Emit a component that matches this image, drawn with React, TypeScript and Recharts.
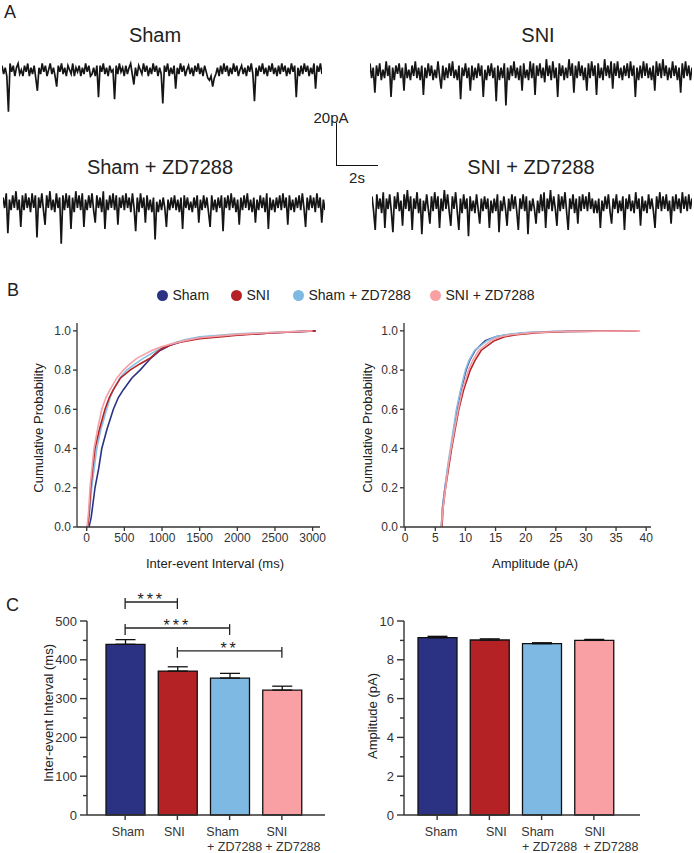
import React from 'react';
import { LineChart, Line, BarChart, Bar, Cell, ErrorBar, XAxis, YAxis, ReferenceLine } from 'recharts';

const FONT = '"Liberation Sans", Arial, Helvetica, sans-serif';
const INK = '#333';

const groups = ['Sham', 'SNI', 'Sham + ZD7288', 'SNI + ZD7288'];
const groupColors = ['#2b3283', '#b52226', '#7db9e2', '#f9a0a4'];
const lineColors = ['#2b3283', '#b52226', '#87bfe5', '#f4a0a6'];
const tickLines = [['Sham'], ['SNI'], ['Sham', '+ ZD7288'], ['SNI', '+ ZD7288']];

// example sEPSC traces, pA from baseline (downward = inward events)
const traceSham = [
  2, -2, 1, -3, -20, 3, -1, 2, -3, 1, 3, -2, 0, -3, 2, -1, 3, -3, 1, -2,
  2, -4, -10, 1, -2, 3, -1, 2, -3, 0, 3, -2, 1, -3, -8, 2, -1, 3, -2, 1,
  -3, 2, 0, -2, 3, -3, 1, -1, 2, -3, 1, -2, 3, -1, 2, -3, -2, 1, -3, 2,
  -13, 2, -1, 3, -2, 1, -3, 2, -1, 0, -14, 2, -2, 3, -1, 1, -3, 2, -2, 1,
  3, -2, -7, 1, -3, 2, 0, -2, 3, -1, 2, -3, 1, -2, 3, -1, 2, -3, 1, -2,
  -16, 2, -1, 3, -3, 1, -2, 2, -9, 1, -2, 3, -1, 2, -3, 0, 2, -2, 1, -3,
  2, -1, 3, -2, 1, -3, 2, -1, -4, -5, -3, -8, -4, -2, 1, -3, 2, -2, 3, -1,
  2, -3, 1, -2, 3, -1, 2, -3, 0, 2, -2, 1, -3, 2, -1, 3, -2, -15, 1, -3,
  2, -1, 3, -2, 1, -3, 2, -1, 3, -2, 1, -3, 2, -2, 3, -1, 2, -3, 1, -2,
  3, -1, 2, -13, 1, -3, 2, -2, 3, -1, 2, -3, 1, -2, 3, -9, 2, -1, 3, -2,
];
const traceSNI = [
  4, -3, 2, -10, 3, -2, 4, -4, 1, -3, 5, -2, 3, -12, 2, -4, 3, -1, 4, -3,
  2, -9, 4, -3, 1, -4, 3, -2, 5, -3, 2, -4, 3, -11, 2, -3, 4, -2, 3, -4,
  1, -3, 5, -2, -8, 3, -4, 2, -3, 4, -2, 5, -3, 1, -4, 3, -13, 2, -2, 4,
  -3, 2, -9, 3, -4, 2, -3, 4, -2, 3, -12, 1, -4, 3, -2, 4, -3, 2, -14, 3,
  -4, 2, -3, 4, -16, 2, -4, 3, -2, 5, -3, 2, -4, 3, -9, 4, -3, 1, -4, 5,
  -3, 4, -11, 3, -2, 4, -3, 2, -5, 6, -2, 3, -4, 5, -3, 2, -12, 4, -2, 3,
  -4, 2, -3, 6, -2, 4, -10, 3, -3, 5, -2, 3, -4, 2, -9, 4, -3, 5, -2, 3,
  -11, 4, -3, 2, -4, 6, -2, 3, -3, 5, -8, 4, -2, 5, -3, 2, -4, 3, -2, 4,
  -3, 5, -2, 3, -12, 2, -4, 3, -3, 5, -2, 4, -3, 2, -4, 3, -9, 5, -2, 4,
  -3, 6, -2, 3, -4, 2, -3, 5, -2, 3, -4, 2, -10, 4, -3, 5, -2, 3, -4, 2,
];
const traceShamZD = [
  3, -2, 5, -14, 2, -3, 4, -2, 6, -3, 2, -11, 4, -3, 5, -2, 3, -4, 5, -2,
  4, -16, 3, -2, 5, -3, -10, 4, -2, 6, -3, 2, -4, 5, -2, 3, -19, 4, -3, 5,
  -2, 4, -12, 3, -4, 6, -2, 4, -3, 5, -11, 2, -3, 4, -2, 5, -3, -9, 4, -2,
  3, -4, 6, -12, 2, -3, 4, -2, 5, -3, 4, -10, 3, -2, 4, -3, 5, -2, 3, -4,
  5, -2, -13, 3, -4, 5, -2, 3, -9, 4, -3, 2, -4, 3, -17, 1, -4, 2, -3, 3,
  -2, -11, 2, -3, 3, -2, 4, -3, 2, -4, 3, -12, 4, -2, 3, -3, 1, -4, 3, -2,
  4, -9, 2, -3, 4, -2, 3, -4, -11, 4, -3, 2, -4, 3, -2, 4, -13, 3, -2, 4,
  -3, 5, -2, 3, -4, 2, -10, 3, -3, 4, -2, 5, -3, 2, -4, 3, -9, 2, -3, 4,
  -2, 3, -4, 5, -12, 3, -3, 2, -4, 3, -2, 4, -3, 5, -2, 3, -10, 4, -3, 2,
  -4, 3, -2, 4, -3, 5, -2, -11, 3, -3, 4, -2, 3, -4, 5, -2, 3, -9, 2, -3,
];
const traceSNIZD = [
  4, -3, -12, 5, -2, 3, -4, 6, -11, 3, -2, 5, -3, -13, 4, -2, 6, -3, 2, -10,
  5, -2, 7, -3, 4, -12, 3, -2, 6, -4, 3, -14, 2, -3, 5, -2, -9, 4, -3, 6,
  -2, 4, -11, 3, -3, 7, -2, 5, -3, -10, 4, -2, 6, -3, -12, 3, -4, 5, -2, 3,
  -15, 4, -3, 2, -4, 5, -2, -9, 3, -3, 4, -2, 3, -11, 2, -4, 3, -3, 5, -13,
  2, -3, 4, -2, -10, 3, -3, 5, -2, 4, -3, -12, 3, -2, 5, -3, 4, -14, 2, -3,
  3, -2, -9, 2, -4, 5, -3, 6, -11, 3, -2, 7, -3, 4, -2, -10, 5, -3, 4, -2,
  6, -3, -12, 3, -2, 5, -4, 3, -9, 4, -3, 5, -2, 4, -3, 6, -2, 3, -4, 2,
  -4, 3, -11, 2, -3, 4, -2, 5, -3, -9, 3, -2, 5, -4, 2, -3, 4, -12, 3, -2,
  5, -3, 2, -4, 6, -2, 3, -10, 4, -3, 2, -4, 5, -2, 3, -3, -11, 4, -2, 6,
  -3, 4, -2, 5, -3, 2, -9, 4, -3, 5, -2, 3, -4, 6, -2, 4, -3, 5, -2, 3,
];

// cumulative distributions: [value, probability]
const intervalSham = [[30, 0], [60, 0.05], [110, 0.2], [160, 0.3], [200, 0.4], [270, 0.5], [354, 0.6], [420, 0.66], [487, 0.7], [600, 0.76], [708, 0.8], [850, 0.86], [974, 0.9], [1100, 0.925], [1300, 0.95], [1500, 0.965], [1800, 0.975], [2000, 0.98], [2500, 0.99], [3040, 1.0]];
const intervalSNI = [[10, 0], [30, 0.06], [53, 0.2], [80, 0.3], [110, 0.4], [170, 0.5], [243, 0.6], [300, 0.66], [354, 0.7], [450, 0.76], [575, 0.8], [700, 0.83], [840, 0.86], [930, 0.89], [1000, 0.91], [1200, 0.94], [1500, 0.96], [1800, 0.97], [2000, 0.978], [2500, 0.99], [3040, 1.0]];
const intervalShamZD = [[15, 0], [40, 0.08], [66, 0.2], [100, 0.3], [133, 0.4], [190, 0.5], [266, 0.6], [310, 0.66], [354, 0.7], [440, 0.76], [531, 0.8], [640, 0.83], [750, 0.86], [930, 0.9], [1100, 0.93], [1300, 0.955], [1500, 0.97], [2000, 0.985], [2500, 0.992], [3000, 1.0]];
const intervalSNIZD = [[5, 0], [25, 0.08], [44, 0.2], [70, 0.3], [97, 0.4], [145, 0.5], [200, 0.6], [255, 0.66], [310, 0.7], [400, 0.76], [487, 0.8], [570, 0.83], [664, 0.86], [863, 0.9], [1000, 0.92], [1300, 0.95], [1500, 0.965], [2000, 0.982], [2500, 0.992], [3000, 1.0]];

const ampSham = [[6, 0], [6.2, 0.1], [6.6, 0.2], [7.1, 0.3], [7.6, 0.4], [8.1, 0.5], [8.6, 0.6], [9.3, 0.7], [10.1, 0.8], [10.7, 0.85], [11.6, 0.9], [13.3, 0.95], [15, 0.97], [17, 0.98], [20, 0.99], [25, 0.997], [38.5, 1.0]];
const ampSNI = [[6.1, 0], [6.3, 0.1], [6.7, 0.2], [7.2, 0.3], [7.7, 0.4], [8.3, 0.5], [8.9, 0.6], [9.7, 0.7], [10.8, 0.8], [11.6, 0.85], [12.6, 0.9], [14.8, 0.95], [16.5, 0.97], [18.5, 0.98], [22, 0.99], [27, 0.997], [38.5, 1.0]];
const ampShamZD = [[6, 0], [6.2, 0.1], [6.6, 0.2], [7.0, 0.3], [7.5, 0.4], [8.0, 0.5], [8.5, 0.6], [9.2, 0.7], [10.0, 0.8], [10.6, 0.85], [11.5, 0.9], [13.6, 0.95], [15, 0.97], [16.5, 0.98], [19.5, 0.99], [24, 0.997], [38.5, 1.0]];
const ampSNIZD = [[6, 0], [6.3, 0.1], [6.7, 0.2], [7.1, 0.3], [7.6, 0.4], [8.2, 0.5], [8.8, 0.6], [9.5, 0.7], [10.5, 0.8], [11.2, 0.85], [12.2, 0.9], [14.2, 0.95], [15.8, 0.97], [17.5, 0.98], [21, 0.99], [26, 0.997], [39, 1.0]];

const probTicks = [0, 0.2, 0.4, 0.6, 0.8, 1.0];
const intervalTicks = [0, 500, 1000, 1500, 2000, 2500, 3000];
const ampTicks = [0, 5, 10, 15, 20, 25, 30, 35, 40];

// bar summaries (mean, SEM)
const intervalMeans = [440, 371, 353, 322];
const intervalSem = [12, 11, 12, 10];
const intervalBarTicks = [0, 50, 100, 150, 200, 250, 300, 350, 400, 450, 500];
const ampMeans = [9.14, 9.02, 8.83, 9.0];
const ampSem = [0.07, 0.06, 0.05, 0.05];
const ampBarTicks = [0, 1, 2, 3, 4, 5, 6, 7, 8, 9, 10];

// significance brackets on the interval bars
const brackets = [
  { from: 'Sham', to: 'SNI', y: 549, stars: '***' },
  { from: 'Sham', to: 'Sham + ZD7288', y: 482, stars: '***' },
  { from: 'SNI', to: 'SNI + ZD7288', y: 423, stars: '**' },
];

const toPts = (arr: number[][]) => arr.map(([x, p]) => ({ x, p }));
const intervalCdfs = [intervalSham, intervalSNI, intervalShamZD, intervalSNIZD];
const ampCdfs = [ampSham, ampSNI, ampShamZD, ampSNIZD];
const drawOrder = [0, 2, 1, 3];

const barData = groups.map((name, i) => ({
  name,
  interval: intervalMeans[i],
  intervalErr: [0, intervalSem[i]],
  amp: ampMeans[i],
  ampErr: [0, ampSem[i]],
}));

const Trace = ({ data, left, top, width }: { data: number[]; left: number; top: number; width: number }) => (
  <div style={{ position: 'absolute', left, top }}>
    <LineChart width={width} height={63} data={data.map((v, i) => ({ i, v }))} margin={{ top: 0, right: 0, bottom: 0, left: 0 }}>
      <XAxis dataKey="i" type="number" domain={[0, data.length - 1]} hide />
      <YAxis type="number" domain={[-22, 8]} hide />
      <Line dataKey="v" type="linear" stroke="#151515" strokeWidth={1.7} dot={false} isAnimationActive={false} />
    </LineChart>
  </div>
);

const Text = ({ x, y, size, children, rotate }: any) => (
  <div
    style={{
      position: 'absolute', left: x, top: y, fontSize: size, color: '#222', whiteSpace: 'nowrap', lineHeight: 1,
      transform: `translate(-50%, -50%)${rotate ? ' rotate(-90deg)' : ''}`,
    }}
  >
    {children}
  </div>
);

const makeYTick = (isMajor: (v: number) => boolean) => (props: any) => {
  const { x, y, payload } = props;
  const major = isMajor(payload.value);
  return (
    <g>
      <line x1={x} x2={x - (major ? 7 : 4)} y1={y} y2={y} stroke={INK} strokeWidth={1.4} />
      {major && (
        <text x={x - 10} y={y + 4.5} textAnchor="end" fontSize={13} fill={INK} fontFamily={FONT}>
          {payload.value}
        </text>
      )}
    </g>
  );
};

const makeGroupTick = (shifts: number[][]) => (props: any) => {
  const { x, y, index } = props;
  const lines = tickLines[index];
  return (
    <g>
      {lines.map((t, k) => (
        <text key={t} x={x + shifts[index][k]} y={y + 16 + k * 15} textAnchor="middle" fontSize={12.5} fill={INK} fontFamily={FONT}>
          {t}
        </text>
      ))}
    </g>
  );
};

const starLabel = (stars: string) => (p: any) => {
  const vb = p.viewBox;
  return (
    <text x={vb.x + vb.width / 2} y={vb.y + 3} textAnchor="middle" fontSize={16} letterSpacing={3} fill="#222" fontFamily={FONT}>
      {stars}
    </text>
  );
};

const axisTick = { fontSize: 12, fill: INK, fontFamily: FONT };

const CdfChart = ({ cdfs, width, xDomain, xTicks, yWidth, right }: any) => (
  <LineChart width={width} height={310} margin={{ top: 53, right, bottom: 8, left: 0 }}>
    <XAxis
      type="number" dataKey="x" domain={xDomain} ticks={xTicks} allowDataOverflow height={45}
      tick={axisTick} tickSize={4} stroke={INK} strokeWidth={1.3}
    />
    <YAxis
      type="number" domain={[0, 1.04]} ticks={probTicks} width={yWidth} tickFormatter={(v: number) => v.toFixed(1)}
      tick={axisTick} tickSize={4} stroke={INK} strokeWidth={1.3}
    />
    {drawOrder.map((k) => (
      <Line
        key={groups[k]} data={toPts(cdfs[k])} dataKey="p" type="linear" stroke={lineColors[k]} strokeWidth={1.6}
        dot={false} isAnimationActive={false}
      />
    ))}
  </LineChart>
);

export default function App() {
  const legendDots = [162, 236, 298, 435];
  return (
    <div style={{ position: 'absolute', left: 0, top: 0, width: 694, height: 853, background: '#fff', fontFamily: FONT, overflow: 'hidden' }}>
      {/* A */}
      <div style={{ position: 'absolute', left: 4, top: 2, fontSize: 18, color: '#222' }}>A</div>
      <Text x={155} y={35} size={20}>Sham</Text>
      <Text x={538} y={35} size={20}>SNI</Text>
      <Text x={160} y={167} size={20}>Sham + ZD7288</Text>
      <Text x={531} y={167} size={20}>SNI + ZD7288</Text>
      <Trace data={traceSham} left={2} top={53} width={320} />
      <Trace data={traceSNI} left={370} top={55} width={322} />
      <Trace data={traceShamZD} left={3} top={187} width={322} />
      <Trace data={traceSNIZD} left={372} top={188} width={320} />
      <Text x={331} y={117} size={15}>20pA</Text>
      <div style={{ position: 'absolute', left: 336, top: 123, width: 41, height: 42, borderLeft: '1.5px solid #111', borderBottom: '1.5px solid #111' }} />
      <Text x={357} y={177} size={15}>2s</Text>

      {/* B */}
      <div style={{ position: 'absolute', left: 7, top: 280, fontSize: 18, color: '#222' }}>B</div>
      {groups.map((g, i) => (
        <div key={g} style={{ position: 'absolute', left: legendDots[i] - 5.5, top: 295 - 8, display: 'flex', alignItems: 'center', height: 16, fontSize: 14, color: '#222', whiteSpace: 'nowrap' }}>
          <span style={{ width: 11, height: 11, borderRadius: '50%', background: groupColors[i], marginRight: 5, display: 'inline-block' }} />
          {g}
        </div>
      ))}
      <div style={{ position: 'absolute', left: 0, top: 270 }}>
        <CdfChart cdfs={intervalCdfs} width={340} xDomain={[-129, 3098]} xTicks={intervalTicks} yWidth={77} right={20} />
      </div>
      <div style={{ position: 'absolute', left: 345, top: 270 }}>
        <CdfChart cdfs={ampCdfs} width={349} xDomain={[-0.2, 40.8]} xTicks={ampTicks} yWidth={59} right={43} />
      </div>
      <Text x={38} y={428} size={13} rotate>Cumulative Probability</Text>
      <Text x={215} y={563} size={13}>Inter-event Interval (ms)</Text>
      <Text x={367} y={428} size={13} rotate>Cumulative Probability</Text>
      <Text x={535} y={563} size={13}>Amplitude (pA)</Text>

      {/* C */}
      <div style={{ position: 'absolute', left: 6, top: 595, fontSize: 18, color: '#222' }}>C</div>
      <div style={{ position: 'absolute', left: 0, top: 580 }}>
        <BarChart width={350} height={273} data={barData} margin={{ top: 41, right: 25, bottom: 0, left: 0 }}>
          <XAxis dataKey="name" height={38} padding={{ left: 12, right: 17 }} tick={makeGroupTick([[3], [-3], [-7, 5], [-5, 11]])} tickSize={5} tickMargin={0} stroke={INK} strokeWidth={1.4} interval={0} />
          <YAxis type="number" domain={[0, 500]} ticks={intervalBarTicks} width={87} tick={makeYTick((v) => v % 100 === 0)} tickSize={0} tickMargin={0} tickLine={false} stroke={INK} strokeWidth={1.4} interval={0} />
          <Bar dataKey="interval" barSize={39} stroke="#111" strokeWidth={1.3} isAnimationActive={false}>
            {groups.map((g, i) => <Cell key={g} fill={groupColors[i]} />)}
            <ErrorBar dataKey="intervalErr" width={10} stroke="#111" strokeWidth={1.3} direction="y" />
          </Bar>
          {brackets.map((b) => (
            <React.Fragment key={b.from + b.to}>
              <ReferenceLine ifOverflow="visible" segment={[{ x: b.from, y: b.y }, { x: b.to, y: b.y }]} stroke="#222" strokeWidth={1.3} label={starLabel(b.stars)} />
              <ReferenceLine ifOverflow="visible" segment={[{ x: b.from, y: b.y + 10 }, { x: b.from, y: b.y - 18 }]} stroke="#222" strokeWidth={1.3} />
              <ReferenceLine ifOverflow="visible" segment={[{ x: b.to, y: b.y + 10 }, { x: b.to, y: b.y - 18 }]} stroke="#222" strokeWidth={1.3} />
            </React.Fragment>
          ))}
        </BarChart>
      </div>
      <div style={{ position: 'absolute', left: 345, top: 580 }}>
        <BarChart width={349} height={273} data={barData} margin={{ top: 41, right: 54, bottom: 0, left: 0 }}>
          <XAxis dataKey="name" height={38} padding={{ left: 7, right: 20 }} tick={makeGroupTick([[4], [7], [-4, 8], [1, 17]])} tickSize={5} tickMargin={0} stroke={INK} strokeWidth={1.4} interval={0} />
          <YAxis type="number" domain={[0, 10]} ticks={ampBarTicks} width={59} tick={makeYTick((v) => v % 2 === 0)} tickSize={0} tickMargin={0} tickLine={false} stroke={INK} strokeWidth={1.4} interval={0} />
          <Bar dataKey="amp" barSize={39} stroke="#111" strokeWidth={1.3} isAnimationActive={false}>
            {groups.map((g, i) => <Cell key={g} fill={groupColors[i]} />)}
            <ErrorBar dataKey="ampErr" width={10} stroke="#111" strokeWidth={1.3} direction="y" />
          </Bar>
        </BarChart>
      </div>
      <Text x={48} y={713} size={13} rotate>Inter-event Interval (ms)</Text>
      <Text x={372} y={716} size={13} rotate>Amplitude (pA)</Text>
    </div>
  );
}
